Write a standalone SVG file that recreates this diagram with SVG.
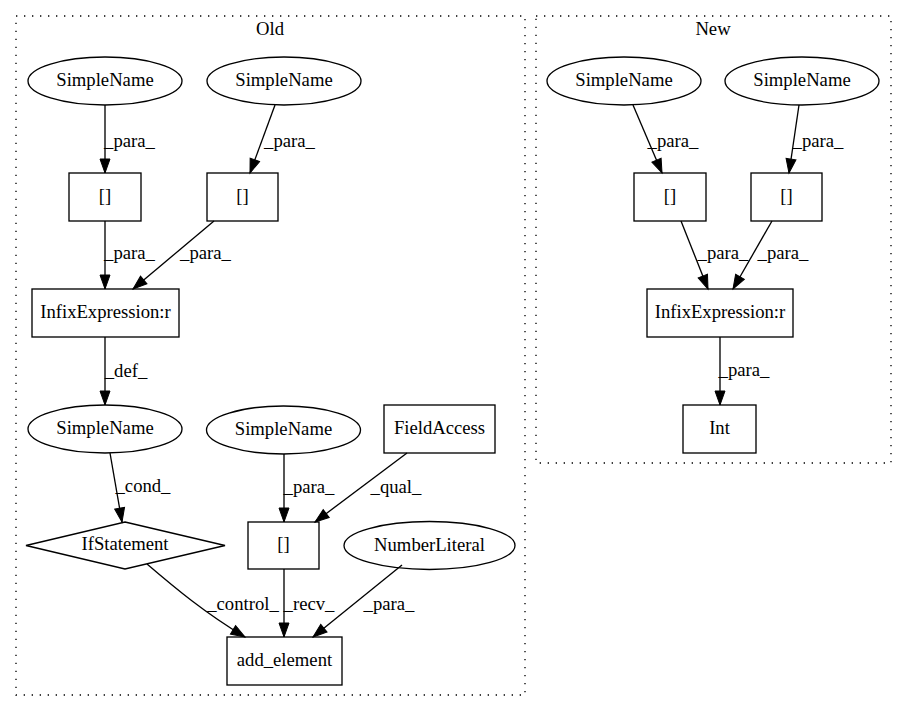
<svg xmlns="http://www.w3.org/2000/svg" width="907" height="712" viewBox="0 0 907 712">
<style>
text{font-family:"Liberation Serif","Times New Roman",serif;font-size:18.67px;fill:#000;text-anchor:middle}
.n{fill:none;stroke:#000;stroke-width:1.33}
.c{fill:none;stroke:#000;stroke-width:1.33;stroke-dasharray:1.33 6.67}
.e{fill:none;stroke:#000;stroke-width:1.33;marker-end:url(#a)}
</style>
<defs>
<marker id="a" markerUnits="userSpaceOnUse" markerWidth="14" markerHeight="10" refX="14" refY="5" orient="auto" overflow="visible">
<path d="M0,0 L14,5 L0,10 z" fill="#000" stroke="#000" stroke-width="1"/>
</marker>
</defs>
<rect width="907" height="712" fill="#fff"/>
<g id="cluster_old">
<rect class="c" x="16" y="16" width="509" height="679"/>
<text x="270" y="35">Old</text>
</g>
<g id="cluster_new">
<rect class="c" x="536" y="16" width="355" height="447"/>
<text x="713" y="35">New</text>
</g>
<g id="edges">
<line class="e" x1="105" y1="105" x2="105" y2="173"/>
<text x="129.5" y="147">_para_</text>
<line class="e" x1="275" y1="105" x2="250" y2="173"/>
<text x="289.5" y="147">_para_</text>
<line class="e" x1="105" y1="221" x2="105" y2="289"/>
<text x="129.5" y="259">_para_</text>
<line class="e" x1="214" y1="221" x2="133" y2="289"/>
<text x="205.5" y="259">_para_</text>
<line class="e" x1="105" y1="337" x2="105" y2="405"/>
<text x="126" y="377">_def_</text>
<line class="e" x1="110" y1="453" x2="122" y2="522"/>
<text x="143" y="492">_cond_</text>
<line class="e" x1="284" y1="454" x2="284" y2="522"/>
<text x="309" y="493">_para_</text>
<line class="e" x1="407" y1="453" x2="315" y2="522"/>
<text x="396" y="493">_qual_</text>
<line class="e" x1="284" y1="569" x2="284" y2="637"/>
<text x="309" y="610">_recv_</text>
<line class="e" x1="402" y1="565" x2="313" y2="637"/>
<text x="389" y="610">_para_</text>
<path class="e" d="M147,564 C175,588 205,613 245,637"/>
<text x="243" y="610">_control_</text>
<line class="e" x1="633" y1="105" x2="662" y2="173"/>
<text x="673" y="147">_para_</text>
<line class="e" x1="799" y1="105" x2="789" y2="173"/>
<text x="818" y="147">_para_</text>
<line class="e" x1="681" y1="221" x2="708" y2="289"/>
<text x="723" y="259">_para_</text>
<line class="e" x1="772" y1="221" x2="733" y2="289"/>
<text x="783" y="259">_para_</text>
<line class="e" x1="720" y1="337" x2="720" y2="405"/>
<text x="744" y="376">_para_</text>
</g>
<g id="sn1"><ellipse class="n" cx="105" cy="81" rx="77" ry="24"/><text x="105" y="86">SimpleName</text></g>
<g id="sn2"><ellipse class="n" cx="284" cy="81" rx="77" ry="24"/><text x="284" y="86">SimpleName</text></g>
<g id="arr1"><rect class="n" x="69" y="173" width="72" height="48"/><text x="105" y="202">[]</text></g>
<g id="arr2"><rect class="n" x="207" y="173" width="71" height="48"/><text x="242.5" y="202">[]</text></g>
<g id="infix1"><rect class="n" x="32" y="289" width="147" height="48"/><text x="105.5" y="318">InfixExpression:r</text></g>
<g id="sn3"><ellipse class="n" cx="105" cy="429" rx="77" ry="24"/><text x="105" y="434">SimpleName</text></g>
<g id="sn4"><ellipse class="n" cx="283.5" cy="430" rx="77" ry="24"/><text x="283.5" y="435">SimpleName</text></g>
<g id="fieldaccess"><rect class="n" x="384" y="405" width="111" height="48"/><text x="439.5" y="434">FieldAccess</text></g>
<g id="ifstatement"><polygon class="n" points="125,522 225,545.5 125,569 26,545.5"/><text x="125" y="550">IfStatement</text></g>
<g id="arr3"><rect class="n" x="248" y="522" width="71" height="47"/><text x="283.5" y="550">[]</text></g>
<g id="numberliteral"><ellipse class="n" cx="429.5" cy="545.5" rx="85.5" ry="24"/><text x="429.5" y="550.5">NumberLiteral</text></g>
<g id="add_element"><rect class="n" x="227" y="637" width="115" height="48"/><text x="284.5" y="666">add_element</text></g>
<g id="sn5"><ellipse class="n" cx="624" cy="81" rx="77" ry="24"/><text x="624" y="86">SimpleName</text></g>
<g id="sn6"><ellipse class="n" cx="802" cy="81" rx="77" ry="24"/><text x="802" y="86">SimpleName</text></g>
<g id="arr4"><rect class="n" x="634" y="173" width="72" height="48"/><text x="670" y="202">[]</text></g>
<g id="arr5"><rect class="n" x="751" y="173" width="71" height="48"/><text x="786.5" y="202">[]</text></g>
<g id="infix2"><rect class="n" x="647" y="289" width="146" height="48"/><text x="720" y="318">InfixExpression:r</text></g>
<g id="int"><rect class="n" x="683" y="405" width="73" height="48"/><text x="719.5" y="434">Int</text></g>
</svg>
